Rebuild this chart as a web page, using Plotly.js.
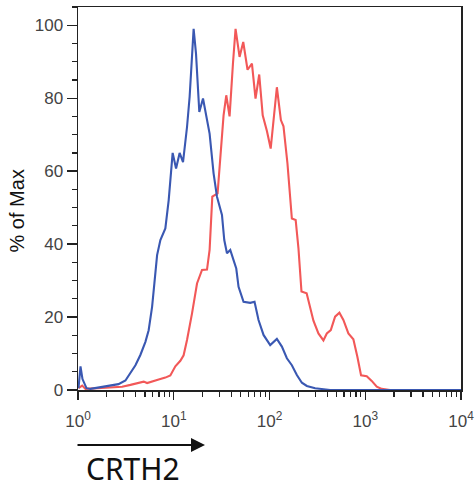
<!DOCTYPE html>
<html>
<head>
<meta charset="utf-8">
<script src="https://cdn.plot.ly/plotly-3.0.1.min.js"></script>
<style>html,body{margin:0;padding:0;background:#fff;}#chart{width:476px;height:491px;}</style>
</head>
<body>
<div id="chart"></div>
<script>
// CRTH2 fluorescence intensity (x) vs % of Max (y)
const blueX = [1.012, 1.062, 1.114, 1.226, 1.350, 1.522, 2.08, 2.645, 3.13, 3.53, 3.98, 4.48, 5.06, 5.47, 5.94, 6.28, 6.70, 7.25, 8.17, 8.85, 9.37, 9.74, 10.57, 11.52, 12.50, 13.76, 14.65, 16.13, 17.08, 18.49, 20.21, 21.88, 23.68, 26.06, 28.28, 31.89, 33.70, 35.96, 38.92, 42.13, 44.96, 47.51, 53.56, 62.92, 69.76, 76.8, 86.6, 101.7, 119.4, 134.7, 151.9, 171.2, 193.1, 217.8, 245.5, 299.6, 429.5, 10000];
const blueY = [0.5, 6.5, 3, 0.5, 0.3, 0.5, 1.0, 1.6, 2.6, 4.6, 6.8, 9.6, 13.2, 16.4, 22.8, 29.3, 37, 41.1, 44.3, 52, 60.7, 65, 60.7, 65, 62.5, 72.1, 80.4, 99, 92.2, 76.2, 79.9, 75.3, 70.3, 59.4, 53, 48, 41.1, 37.5, 38.4, 35.6, 33.3, 28.3, 24.2, 23.9, 24.2, 19.2, 15.1, 12.3, 14, 11.9, 8.7, 6.8, 4.1, 2, 1.1, 0.5, 0, 0];

const redX = [1.012, 1.106, 1.197, 1.522, 2.183, 2.890, 3.527, 4.144, 4.856, 5.268, 5.938, 6.957, 8.17, 9.21, 10.39, 11.72, 12.68, 13.76, 15.52, 17.50, 19.73, 22.25, 23.68, 24.49, 25.27, 28.70, 30.62, 33.14, 35.36, 38.28, 41.53, 44.21, 48.67, 53.19, 58.97, 65.55, 71.45, 78.09, 84.94, 93.96, 102.9, 119.4, 131.5, 140.0, 154.0, 171.2, 187.6, 200.7, 215.7, 244.3, 287.6, 324.3, 365.7, 396.8, 436.7, 484.3, 537.0, 591.0, 666.5, 751.5, 827.3, 904.2, 1036.6, 1168.7, 1318.3, 1486, 1814, 10000];
const redY = [0.5, 1.2, 0.3, 0.5, 0.7, 0.9, 1.4, 1.8, 2.3, 1.9, 2.4, 2.9, 3.4, 4.0, 6.5, 8.0, 9.5, 13.7, 21, 29.2, 32.9, 33, 38.4, 47, 53, 53.9, 63.9, 75.3, 80.8, 75, 89.5, 99, 91.3, 95.4, 87.8, 89.5, 79.9, 86.5, 75.3, 71, 66.2, 83, 74, 72.3, 62.1, 47, 46.6, 38.8, 27, 26.5, 19, 15.5, 13.6, 15.5, 16.4, 20.1, 21.2, 19.2, 15.5, 13.9, 9.1, 4.0, 3.8, 2.5, 0.9, 0.3, 0, 0];

const xTickVals = [1, 10, 100, 1000, 10000];
const xTickText = ['10<sup>0</sup>', '10<sup>1</sup>', '10<sup>2</sup>', '10<sup>3</sup>', '10<sup>4</sup>'];
const xMinorVals = [];
for (let d = 0; d < 4; d++) { for (let k = 2; k <= 9; k++) { xMinorVals.push(k * Math.pow(10, d)); } }

const yTitle = '% of Max';
const xTitle = 'CRTH2';

const traces = [
  {x: redX, y: redY, type: 'scatter', mode: 'lines', line: {color: 'rgb(242,88,88)', width: 2.1}, hoverinfo: 'skip'},
  {x: blueX, y: blueY, type: 'scatter', mode: 'lines', line: {color: 'rgb(58,88,178)', width: 2.1}, hoverinfo: 'skip'}
];

const axisCommon = {
  showline: true, linecolor: '#222', linewidth: 1.5, mirror: true,
  showgrid: false, zeroline: false, ticks: 'outside', tickcolor: '#222', tickwidth: 1.3,
  layer: 'below traces',
  tickfont: {family: 'Liberation Sans, Arial, sans-serif', size: 17, color: '#444'}
};

const layout = {
  width: 476, height: 491,
  margin: {l: 78, r: 15, t: 7, b: 101, pad: 0},
  paper_bgcolor: '#fff', plot_bgcolor: '#fff',
  showlegend: false,
  xaxis: Object.assign({}, axisCommon, {
    type: 'log', range: [0, 4],
    tickmode: 'array', tickvals: xTickVals, ticktext: xTickText, ticklen: 8, ticklabelstandoff: 7,
    minor: {tickmode: 'array', tickvals: xMinorVals, ticks: 'outside', ticklen: 5, tickwidth: 1.2, tickcolor: '#222', showgrid: false}
  }),
  yaxis: Object.assign({}, axisCommon, {
    range: [0, 105], tickmode: 'linear', tick0: 0, dtick: 20, ticklen: 10,
    minor: {tickmode: 'linear', tick0: 0, dtick: 5, ticks: 'outside', ticklen: 5, tickwidth: 1.2, tickcolor: '#222', showgrid: false}
  }),
  annotations: [
    {text: yTitle, textangle: -90, xref: 'paper', yref: 'paper', x: -0.1567, y: 0.4687,
     xanchor: 'center', yanchor: 'middle', showarrow: false,
     font: {family: 'Liberation Sans, Arial, sans-serif', size: 20, color: '#111'}},
    {text: '', xref: 'paper', yref: 'paper', x: 0.3316, y: -0.1436, axref: 'pixel', ayref: 'pixel',
     ax: -129, ay: 0, showarrow: true, arrowhead: 2, arrowsize: 1.4, arrowwidth: 2, arrowcolor: '#111', standoff: 0, startstandoff: 0},
    {text: xTitle, xref: 'paper', yref: 'paper', x: 0.1449, y: -0.2037,
     xanchor: 'center', yanchor: 'middle', showarrow: false,
     font: {family: 'Noto Sans, sans-serif', size: 30, color: '#111'}}
  ]
};

Plotly.newPlot('chart', traces, layout, {displayModeBar: false, staticPlot: true});
</script>
</body>
</html>
